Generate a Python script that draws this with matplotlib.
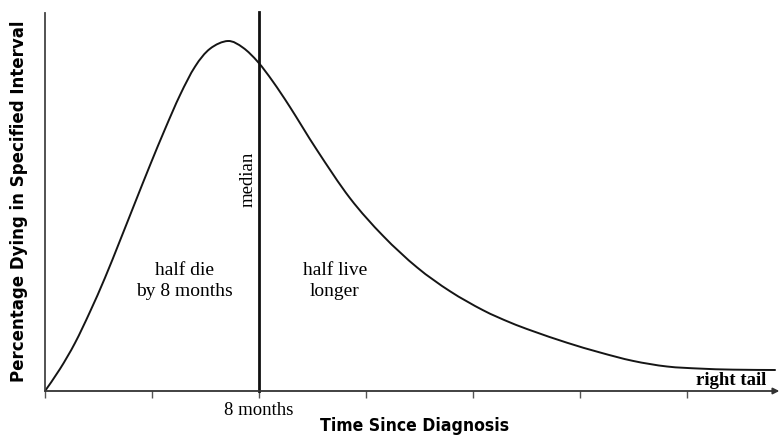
import matplotlib
matplotlib.use("Agg")
import matplotlib.pyplot as plt
from matplotlib.path import Path
from matplotlib.patches import PathPatch

# Curve: months since diagnosis vs. percentage dying (relative units)
months = [0.0, 0.56, 1.12, 1.68, 2.24, 2.80, 3.36, 3.93, 4.49, 5.05, 5.61, 6.17,
          6.84, 7.40, 7.96, 8.52, 9.16, 10.17, 11.40, 12.64, 13.91, 15.14, 16.37,
          17.38, 18.24, 19.51, 20.75, 21.98, 23.25, 24.49, 25.72, 27.29]
pct_dying = [0.0, 0.63, 1.37, 2.26, 3.23, 4.29, 5.37, 6.46, 7.49, 8.46, 9.27, 9.78,
             10.0, 9.81, 9.40, 8.84, 8.11, 6.88, 5.51, 4.43, 3.53, 2.85, 2.31,
             1.96, 1.71, 1.38, 1.10, 0.86, 0.70, 0.64, 0.61, 0.60]
median_month = 8
tick_months = [0, 4, 8, 12, 16, 20, 24]
tick_labels = ["", "", "8 months", "", "", "", ""]

fig = plt.figure(figsize=(7.79, 4.36), dpi=100)
ax = fig.add_axes([45/779, 45/436, 733/779, 378/436])
ax.set_xlim(0, 27.4)
ax.set_ylim(0, 10.8)

serif = "Liberation Serif"

# smooth curve through the read points (Catmull-Rom drawn as cubic Bezier path)
n = len(months)
verts = [(months[0], pct_dying[0])]
codes = [Path.MOVETO]
for i in range(n - 1):
    p0 = (months[max(i - 1, 0)], pct_dying[max(i - 1, 0)])
    p1 = (months[i], pct_dying[i])
    p2 = (months[i + 1], pct_dying[i + 1])
    p3 = (months[min(i + 2, n - 1)], pct_dying[min(i + 2, n - 1)])
    c1 = (p1[0] + (p2[0] - p0[0]) / 6, p1[1] + (p2[1] - p0[1]) / 6)
    c2 = (p2[0] - (p3[0] - p1[0]) / 6, p2[1] - (p3[1] - p1[1]) / 6)
    verts += [c1, c2, p2]
    codes += [Path.CURVE4] * 3
ax.add_patch(PathPatch(Path(verts, codes), facecolor="none", edgecolor="#151515",
                       lw=1.4, capstyle="round", joinstyle="round"))

ax.plot([median_month, median_month], [0, 10.83], color="#111111", lw=2.0, clip_on=False)

for s in ["top", "right", "bottom"]:
    ax.spines[s].set_visible(False)
ax.spines["left"].set_color("#444444")
ax.spines["left"].set_linewidth(1.3)

ax.annotate("", xy=(27.45, 0), xytext=(0, 0), xycoords="data",
            arrowprops=dict(arrowstyle="-|>", color="#333333", lw=1.3,
                            mutation_scale=9, shrinkA=0, shrinkB=0),
            annotation_clip=False)

ax.set_xticks(tick_months)
ax.set_xticklabels(tick_labels, fontfamily=serif, fontsize=13.5)
ax.tick_params(axis="x", direction="out", length=5, width=1.0, color="#555555", pad=3)
ax.set_yticks([])

fig.text(415/779, 1 - 426/436, "Time Since Diagnosis", ha="center", va="center",
         fontfamily="DejaVu Sans", fontweight="bold", fontstretch="condensed",
         fontsize=12.6)
fig.text(19/779, 1 - 201/436, "Percentage Dying in Specified Interval", rotation=90,
         ha="center", va="center", fontfamily="DejaVu Sans", fontweight="bold",
         fontstretch="condensed", fontsize=13.3)

ax.text(7.58, 6.05, "median", rotation=90, ha="center", va="center",
        fontfamily=serif, fontsize=13.5)
ax.text(5.23, 3.15, "half die\nby 8 months", ha="center", va="center",
        fontfamily=serif, fontsize=14, linespacing=1.3)
ax.text(10.84, 3.15, "half live\nlonger", ha="center", va="center",
        fontfamily=serif, fontsize=14, linespacing=1.3)
ax.text(25.65, 0.3, "right tail", ha="center", va="center",
        fontfamily=serif, fontsize=13.5, fontweight="bold")

fig.savefig("out.png", dpi=100)
